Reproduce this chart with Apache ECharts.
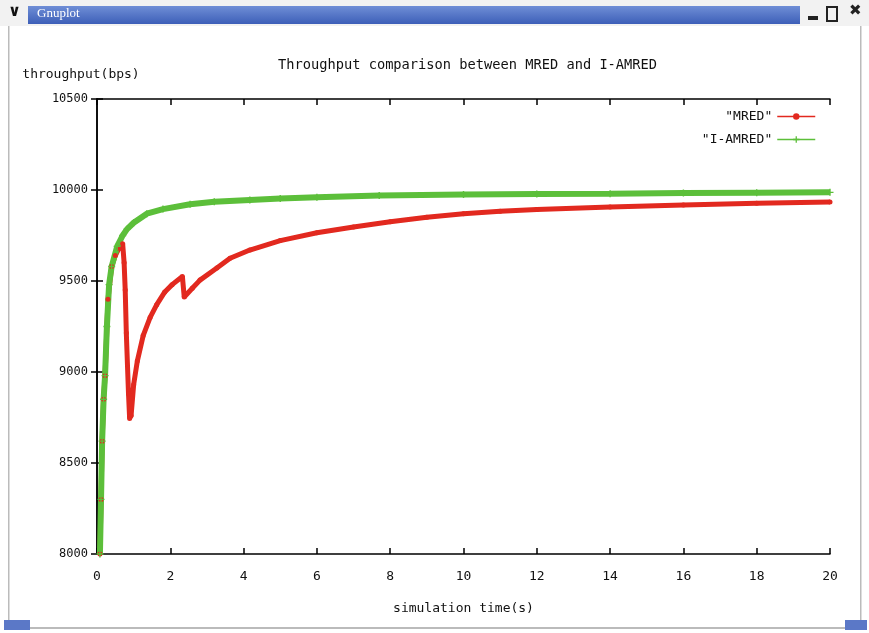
<!DOCTYPE html>
<html>
<head>
<meta charset="utf-8">
<script src="https://cdn.jsdelivr.net/npm/echarts@6/dist/echarts.min.js"></script>
<style>
  html, body { margin: 0; padding: 0; background: #fff; }
  #main { width: 869px; height: 633px; }
</style>
</head>
<body>
<div id="main"></div>
<script>
// simulation time (s) / throughput (bps)
var mredTime = [0.08, 0.11, 0.14, 0.18, 0.22, 0.3, 0.4, 0.5, 0.6, 0.7, 0.74, 0.77, 0.8, 0.86, 0.89, 0.93, 1.0, 1.1, 1.26, 1.45, 1.63, 1.85, 2.05, 2.33, 2.38, 2.6, 2.81, 3.27, 3.63, 4.17, 5, 6, 7, 8, 9, 10, 11, 12, 14, 16, 18, 20];
var mredValue = [8000, 8300, 8620, 8850, 8980, 9400, 9580, 9640, 9680, 9705, 9600, 9450, 9214, 8880, 8745, 8760, 8930, 9060, 9200, 9300, 9370, 9440, 9480, 9525, 9412, 9460, 9505, 9571, 9625, 9670, 9722, 9765, 9797, 9825, 9850, 9870, 9883, 9893, 9907, 9918, 9927, 9934];

var iamredTime = [0.08, 0.11, 0.14, 0.18, 0.22, 0.27, 0.33, 0.4, 0.55, 0.7, 0.82, 1.0, 1.36, 1.8, 2.54, 3.2, 4.17, 5, 6, 7.7, 10, 12, 14, 16, 18, 20];
var iamredValue = [8000, 8300, 8620, 8850, 8980, 9250, 9480, 9580, 9690, 9750, 9785, 9820, 9870, 9895, 9922, 9935, 9945, 9953, 9960, 9970, 9975, 9978, 9980, 9983, 9985, 9987];

var xTicks = [0, 20, 2];      // min, max, step
var yTicks = [8000, 10500, 500];

function pairs(xs, ys) {
  return xs.map(function (x, i) { return [x, ys[i]]; });
}

var mono = 'DejaVu Sans Mono';
var chart = echarts.init(document.getElementById('main'));

var axisCommon = {
  axisLine: { lineStyle: { color: '#000', width: 1.5 } },
  axisTick: { inside: true, length: 6, lineStyle: { color: '#000', width: 1.5 } },
  splitLine: { show: false }
};

var option = {
  backgroundColor: '#fff',
  animation: false,
  title: {
    text: 'Throughput comparison between MRED and I-AMRED',
    left: 273,
    top: 53,
    textStyle: { fontFamily: mono, fontSize: 13.7, fontWeight: 'normal', color: '#111' }
  },
  legend: {
    orient: 'vertical',
    right: 48,
    top: 105,
    align: 'right',
    itemWidth: 38,
    itemHeight: 8,
    itemGap: 10,
    textStyle: { fontFamily: mono, fontSize: 13, color: '#111' },
    lineStyle: { width: 1.5 }
  },
  grid: { left: 97, right: 39, top: 99, bottom: 79 },
  xAxis: [
    Object.assign({
      type: 'value', min: xTicks[0], max: xTicks[1], interval: xTicks[2],
      name: 'simulation time(s)', nameLocation: 'middle', nameGap: 48,
      nameTextStyle: { fontFamily: mono, fontSize: 13, color: '#111' },
      axisLabel: { margin: 16, fontFamily: mono, fontSize: 13, color: '#111' }
    }, axisCommon),
    Object.assign({
      type: 'value', position: 'top', min: xTicks[0], max: xTicks[1], interval: xTicks[2],
      axisLabel: { show: false }
    }, axisCommon)
  ],
  yAxis: [
    Object.assign({
      type: 'value', min: yTicks[0], max: yTicks[1], interval: yTicks[2],
      name: 'throughput(bps)', nameLocation: 'end', nameGap: 18,
      nameTextStyle: { fontFamily: mono, fontSize: 13, color: '#111', align: 'center', padding: [0, 32, 0, 0] },
      axisLabel: { margin: 9, fontFamily: mono, fontSize: 12, color: '#111',
        formatter: function (v) { return String(v); } }
    }, axisCommon),
    Object.assign({
      type: 'value', position: 'right', min: yTicks[0], max: yTicks[1], interval: yTicks[2],
      axisLabel: { show: false }
    }, axisCommon)
  ],
  series: [
    {
      name: '"MRED"',
      type: 'line',
      data: pairs(mredTime, mredValue),
      symbol: 'circle',
      symbolSize: 5,
      color: '#e2291f',
      lineStyle: { width: 5, color: '#e2291f' },
      itemStyle: { color: '#e2291f' }
    },
    {
      name: '"I-AMRED"',
      type: 'line',
      data: pairs(iamredTime, iamredValue),
      symbol: 'path://M4,0H6V4H10V6H6V10H4V6H0V4H4Z',
      symbolSize: 7,
      color: '#5cbf3a',
      lineStyle: { width: 6, color: '#5cbf3a' },
      itemStyle: { color: '#5cbf3a' }
    }
  ],
  graphic: [
    // window frame
    { type: 'rect', shape: { x: 0, y: 0, width: 869, height: 26 }, style: { fill: '#f2f2f2' }, silent: true },
    { type: 'rect', shape: { x: 28, y: 6, width: 772, height: 18 },
      style: { fill: new echarts.graphic.LinearGradient(0, 0, 0, 1, [{ offset: 0, color: '#6f8ed6' }, { offset: 1, color: '#3d5fb8' }]) }, silent: true },
    { type: 'text', left: 37, top: 7, style: { text: 'Gnuplot', fill: '#fff', font: '13px "Liberation Serif"' }, silent: true },
    { type: 'text', left: 8, top: 4, style: { text: '\u2228', fill: '#111', font: 'bold 16px "DejaVu Sans"' }, silent: true },
    { type: 'rect', shape: { x: 808, y: 16, width: 10, height: 4 }, style: { fill: '#222' }, silent: true },
    { type: 'rect', shape: { x: 827, y: 7, width: 10, height: 14 }, style: { fill: 'none', stroke: '#222', lineWidth: 2 }, silent: true },
    { type: 'text', left: 849, top: 4, style: { text: '\u2716', fill: '#222', font: 'bold 15px "DejaVu Sans"' }, silent: true },
    { type: 'rect', shape: { x: 8, y: 26, width: 1.5, height: 602 }, style: { fill: '#bbb' }, silent: true },
    { type: 'rect', shape: { x: 860, y: 26, width: 1.5, height: 602 }, style: { fill: '#bbb' }, silent: true },
    { type: 'rect', shape: { x: 8, y: 627, width: 853, height: 2 }, style: { fill: '#bbb' }, silent: true },
    { type: 'rect', shape: { x: 4, y: 620, width: 26, height: 10 }, style: { fill: '#5b78c7' }, silent: true },
    { type: 'rect', shape: { x: 845, y: 620, width: 22, height: 10 }, style: { fill: '#5b78c7' }, silent: true }
  ]
};

chart.setOption(option);
</script>
</body>
</html>
